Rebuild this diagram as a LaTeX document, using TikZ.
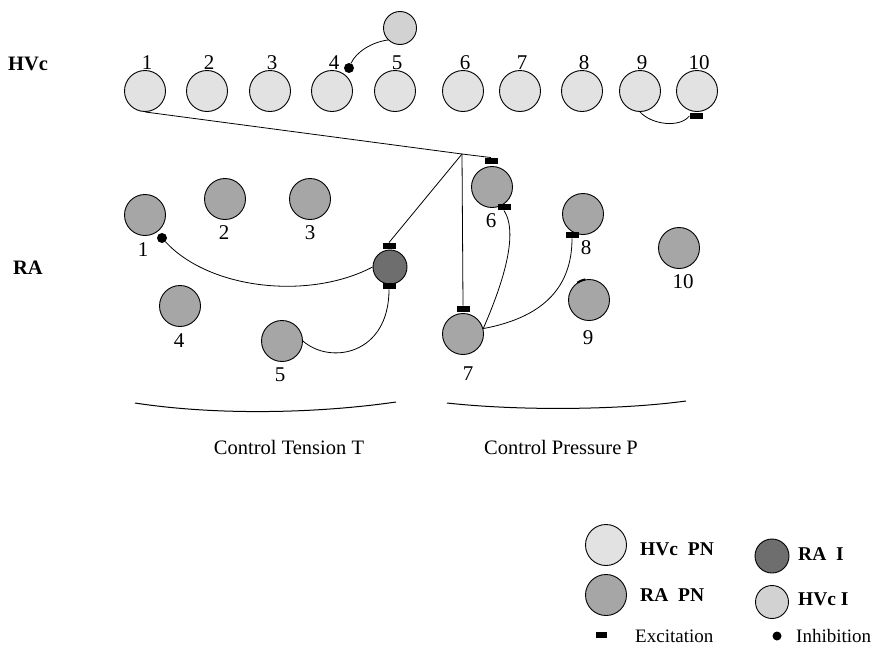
\documentclass[tikz,border=0pt]{standalone}
\usepackage{fontspec}
\setmainfont{Liberation Serif}
\definecolor{hpnfill}{HTML}{E2E2E2}
\definecolor{rpnfill}{HTML}{A6A6A6}
\definecolor{rinfill}{HTML}{6E6E6E}
\definecolor{hinfill}{HTML}{D2D2D2}
\begin{document}
\begin{tikzpicture}[x=1pt,y=-1pt,
  hpn/.style={circle,draw=black,line width=0.9pt,fill=hpnfill,minimum size=41pt,inner sep=0},
  rpn/.style={circle,draw=black,line width=0.9pt,fill=rpnfill,minimum size=41pt,inner sep=0},
  rin/.style={circle,draw=black,line width=0.9pt,fill=rinfill,minimum size=34pt,inner sep=0},
  hin/.style={circle,draw=black,line width=0.9pt,fill=hinfill,minimum size=33pt,inner sep=0},
  excit/.style={rectangle,fill=black,minimum width=13pt,minimum height=6.5pt,inner sep=0},
  inhib/.style={circle,fill=black,minimum size=10pt,inner sep=0},
  num/.style={font=\fontsize{21}{21}\selectfont,inner sep=0},
  area/.style={font=\fontsize{20.5}{20.5}\selectfont\bfseries,inner sep=0},
  captxt/.style={font=\fontsize{20.5}{20.5}\selectfont,inner sep=0},
  leg/.style={font=\fontsize{19.5}{19.5}\selectfont\bfseries,inner sep=0,anchor=west},
  legs/.style={font=\fontsize{19}{19}\selectfont,inner sep=0,anchor=west},
  conn/.style={draw=black,line width=0.8pt}]
\useasboundingbox (0,0) rectangle (877,648);
\fill[white] (0,0) rectangle (877,648);

% area labels
\node[area] (lhvc) at (28,64) {HVc};
\node[area] (lra) at (28,268) {RA};

% HVc projection neurons
\foreach \i/\x in {1/145,2/207,3/270,4/332,5/395,6/463,7/520,8/582,9/640,10/697}{
  \node[hpn] (h\i) at (\x,91) {};
  \node[num] (hl\i) at (\x+2,63) {\i};
}
% HVc interneuron
\node[hin] (hi) at (400,28) {};
\node[inhib] (d4) at (349,68) {};
\draw[conn] (hi.225) .. controls (372,42) and (356,52) .. (d4);

\node[excit] (e10) at (696,116) {};
\draw[conn] (h9.south) .. controls (652,125) and (680,128) .. (e10.west);

% RA projection neurons
\node[rpn] (r1) at (145,215) {};  \node[num] (rl1) at (143,250) {1};
\node[rpn] (r2) at (225,199) {};  \node[num] (rl2) at (224,233) {2};
\node[rpn] (r3) at (310,199) {};  \node[num] (rl3) at (310,233) {3};
\node[rpn] (r4) at (180,306) {};  \node[num] (rl4) at (179,341) {4};
\node[rpn] (r5) at (282,341) {};  \node[num] (rl5) at (280,375) {5};
\node[rpn] (r6) at (492,187) {};  \node[num] (rl6) at (491,221) {6};
\node[rpn] (r7) at (463,334) {};  \node[num] (rl7) at (468,374) {7};
\node[rpn] (r8) at (583,214) {};  \node[num] (rl8) at (586,248) {8};
\node[rpn] (r9) at (589,300) {};  \node[num] (rl9) at (588,338) {9};
\node[rpn] (r10) at (679,248) {}; \node[num] (rl10) at (683,282) {10};
\draw[line width=2pt] (r9.100) arc[start angle=100,end angle=125,radius=20.5pt];
% RA interneuron
\node[rin] (ri) at (390,267) {};

% synapse markers
\node[excit] (e6t) at (491,161) {};
\node[excit] (e6b) at (504,207) {};
\node[excit] (eit) at (389,246) {};
\node[excit] (eib) at (389,286) {};
\node[excit] (e7t) at (463,309) {};
\node[excit] (e8) at (572,235) {};
\node[inhib] (d1) at (162,238) {};

% HVc 1 projection
\coordinate (J) at (462,154);
\draw[conn] (h1.south) -- (J);
\draw[conn] (J) -- (e6t.north);
\draw[conn] (J) -- (eit.north);
\draw[conn] (J) -- (e7t.north);

% RA connections
\draw[conn] (d1) .. controls (210,290) and (310,300) .. (ri.west);
\draw[conn] (r5.east) .. controls (330,365) and (389,355) .. (eib.south);
\draw[conn] (r7.15) .. controls (500,290) and (520,235) .. (e6b.south);
\draw[conn] (r7.15) .. controls (540,318) and (572,290) .. (e8.south);

% control groups
\coordinate (bl1) at (135,403); \coordinate (bl2) at (396,402);
\coordinate (br1) at (447,403); \coordinate (br2) at (686,401);
\draw[line width=1pt] (bl1) .. controls (220,416) and (320,413) .. (bl2);
\draw[line width=1pt] (br1) .. controls (520,411) and (620,410) .. (br2);
\node[captxt] (ct) at (289,447) {Control Tension T};
\node[captxt] (cp) at (561,447) {Control Pressure P};

% legend
\node[hpn] (lg1) at (606,545) {};
\node[leg] (lt1) at (640,549) {HVc\ \ PN};
\node[rpn] (lg2) at (606,595) {};
\node[leg] (lt2) at (640,595) {RA\ \ PN};
\node[excit,minimum width=11pt,minimum height=6pt] (lg3) at (601,635) {};
\node[legs] (lt3) at (635,636) {Excitation};
\node[rin] (lg4) at (772,556) {};
\node[leg] (lt4) at (798,554) {RA\ \ I};
\node[hin] (lg5) at (772,602) {};
\node[leg] (lt5) at (798,599) {HVc I};
\node[inhib,minimum size=9pt] (lg6) at (777,636) {};
\node[legs] (lt6) at (796,636) {Inhibition};
\end{tikzpicture}
\end{document}
